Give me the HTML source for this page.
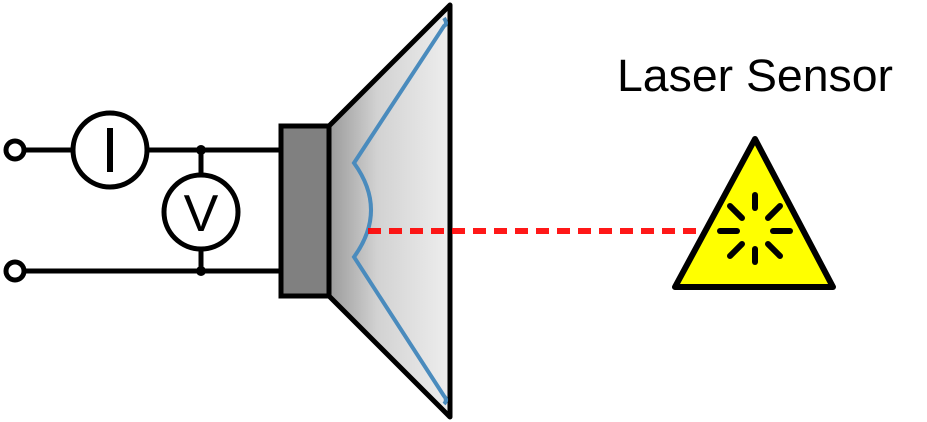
<!DOCTYPE html>
<html><head><style>html,body{margin:0;padding:0;background:#fff;}svg{display:block}</style></head>
<body>
<svg width="927" height="422" viewBox="0 0 927 422" xmlns="http://www.w3.org/2000/svg">
<defs>
<linearGradient id="g" x1="0" x2="1" y1="0" y2="0">
<stop offset="0" stop-color="#9a9a9a"/><stop offset="0.4" stop-color="#d2d2d2"/><stop offset="1" stop-color="#eeeeee"/>
</linearGradient>
</defs>
<g stroke="#000" stroke-width="5" fill="none">
<line x1="24" y1="150" x2="73" y2="150"/>
<line x1="147" y1="150" x2="281" y2="150"/>
<line x1="24" y1="271" x2="281" y2="271"/>
<line x1="201" y1="150" x2="201" y2="175"/>
<line x1="201" y1="249" x2="201" y2="271"/>
<circle cx="15" cy="150" r="9" fill="#fff"/>
<circle cx="15" cy="271" r="9" fill="#fff"/>
<circle cx="110" cy="150" r="37" fill="#fff"/>
<circle cx="201" cy="212" r="37" fill="#fff"/>
</g>
<circle cx="201" cy="150" r="5"/><circle cx="201" cy="271" r="5"/>
<rect x="107" y="128" width="6" height="44"/>
<text x="201" y="231" font-family="Liberation Sans, sans-serif" font-size="52" text-anchor="middle">V</text>
<rect x="281" y="126" width="48" height="170" fill="#808080" stroke="#000" stroke-width="5"/>
<polygon points="329,126 450,5 450,417 329,296" fill="url(#g)" stroke="#000" stroke-width="5" stroke-linejoin="round"/>
<path d="M444,18 Q448,24 444,26 L354,163 Q388,210 354,257 L444,396 Q448,400 444,404" fill="none" stroke="#4a8bbd" stroke-width="4"/>
<line x1="368" y1="231" x2="705" y2="231" stroke="#ff0000" stroke-width="6" stroke-dasharray="13,8" opacity="0.9"/>
<polygon points="755,139 675,287 833,287" fill="#ffff00" stroke="#000" stroke-width="6" stroke-linejoin="round"/>
<g stroke="#000" stroke-width="6" stroke-linecap="round">
<line x1="755" y1="195" x2="755" y2="208"/>
<line x1="755" y1="249" x2="755" y2="262"/>
<line x1="720" y1="231" x2="737" y2="231"/>
<line x1="773" y1="231" x2="790" y2="231"/>
<line x1="730" y1="206" x2="742" y2="218"/>
<line x1="768" y1="244" x2="780" y2="256"/>
<line x1="780" y1="206" x2="768" y2="218"/>
<line x1="742" y1="244" x2="730" y2="256"/>
</g>
<text x="617" y="91" font-family="Liberation Sans, sans-serif" font-size="45" textLength="276" lengthAdjust="spacingAndGlyphs">Laser Sensor</text>
</svg>
</body></html>
